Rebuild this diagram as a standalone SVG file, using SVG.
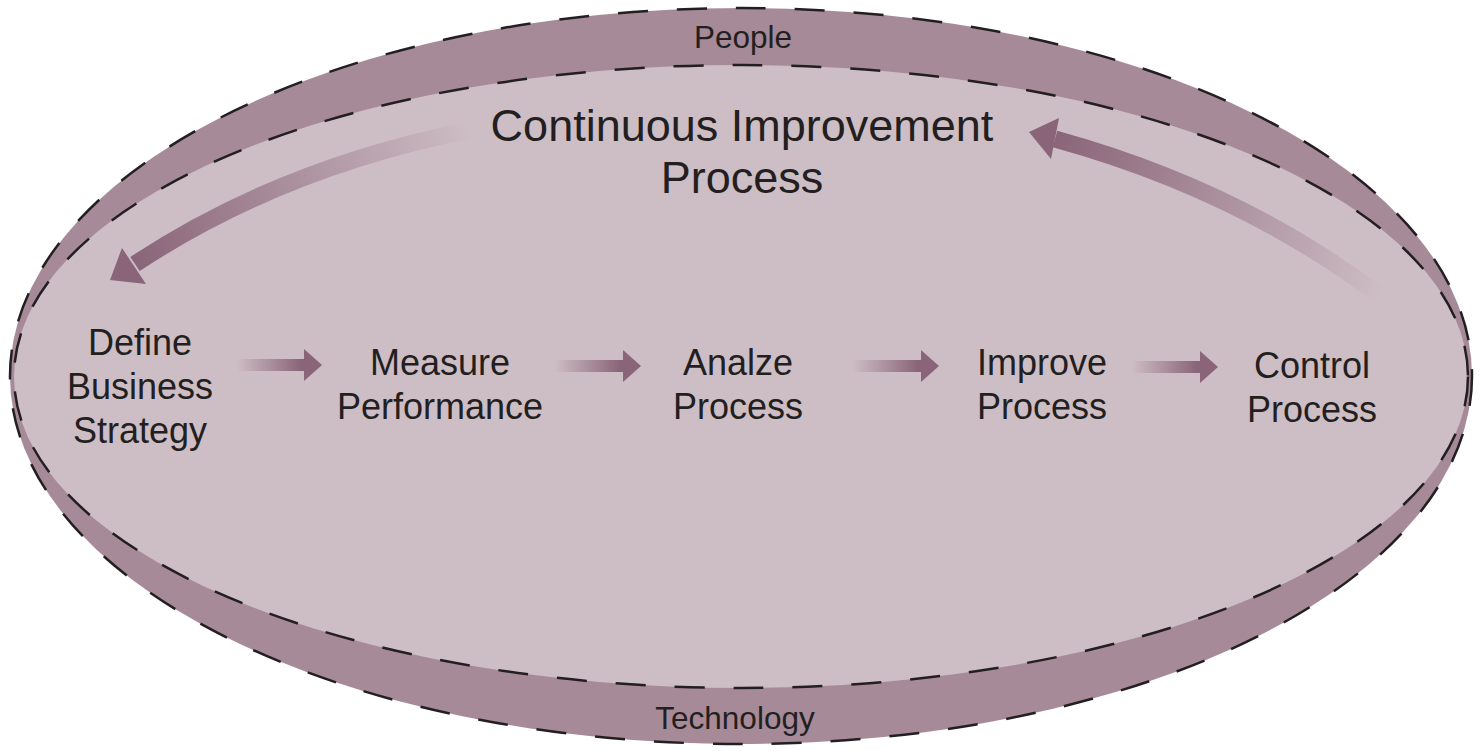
<svg xmlns="http://www.w3.org/2000/svg" width="1481" height="751" viewBox="0 0 1481 751">
  <defs>
    <style>
      .ring { stroke: #231f20; stroke-width: 2.5; stroke-dasharray: 30 29; }
      .band { fill: #a68a98; }
      .core { fill: #cdbdc4; }
      .lbl { font-family: "Liberation Sans", Arial, sans-serif; fill: #231f20; text-anchor: middle; }
      .node { font-size: 36px; }
      .title { font-size: 45px; }
      .edge { font-size: 31.5px; }
      .step { fill: url(#stepFade); }
      .head { fill: #8a6579; }
    </style>
    <!-- straight step arrows fade in from the left -->
    <linearGradient id="stepFade" x1="0" y1="0" x2="1" y2="0">
      <stop offset="0" stop-color="#8a6579" stop-opacity="0"/>
      <stop offset="0.75" stop-color="#8a6579" stop-opacity="1"/>
      <stop offset="1" stop-color="#8a6579" stop-opacity="1"/>
    </linearGradient>
    <!-- curved feedback arrows fade toward their tail -->
    <linearGradient id="fadeLeft" gradientUnits="userSpaceOnUse" x1="470" y1="130" x2="135" y2="262">
      <stop offset="0" stop-color="#8a6579" stop-opacity="0"/>
      <stop offset="1" stop-color="#8a6579" stop-opacity="1"/>
    </linearGradient>
    <linearGradient id="fadeRight" gradientUnits="userSpaceOnUse" x1="1380" y1="296" x2="1055" y2="138">
      <stop offset="0" stop-color="#8a6579" stop-opacity="0"/>
      <stop offset="1" stop-color="#8a6579" stop-opacity="1"/>
    </linearGradient>
  </defs>

  <!-- outer ring: People / Technology -->
  <g id="people-technology">
    <ellipse class="band ring" cx="741" cy="376" rx="731" ry="368"/>
    <text class="lbl edge" x="743" y="48">People</text>
    <text class="lbl edge" x="735" y="729">Technology</text>
  </g>

  <!-- inner area: the improvement cycle -->
  <g id="continuous-improvement">
    <ellipse class="core ring" cx="741" cy="376.5" rx="727" ry="311.5"/>
    <text class="lbl title" x="742" y="141">Continuous Improvement</text>
    <text class="lbl title" x="742" y="193">Process</text>
  </g>

  <g id="define">
    <text class="lbl node" x="140" y="355">Define</text>
    <text class="lbl node" x="140" y="399">Business</text>
    <text class="lbl node" x="140" y="443">Strategy</text>
  </g>
  <g id="measure">
    <text class="lbl node" x="440" y="375">Measure</text>
    <text class="lbl node" x="440" y="419">Performance</text>
  </g>
  <g id="analyze">
    <text class="lbl node" x="738" y="375">Analze</text>
    <text class="lbl node" x="738" y="419">Process</text>
  </g>
  <g id="improve">
    <text class="lbl node" x="1042" y="375">Improve</text>
    <text class="lbl node" x="1042" y="419">Process</text>
  </g>
  <g id="control">
    <text class="lbl node" x="1312" y="378">Control</text>
    <text class="lbl node" x="1312" y="422">Process</text>
  </g>

  <g id="connectors">
    <!-- step arrows -->
    <path class="step" d="M237 359 H304 V349 L322 365 L304 381 V371 H237 Z"/>
    <path class="step" d="M555 360 H623 V350 L641 366 L623 382 V372 H555 Z"/>
    <path class="step" d="M853 360 H921 V350 L939 366 L921 382 V372 H853 Z"/>
    <path class="step" d="M1132 361 H1200 V351 L1218 367 L1200 383 V373 H1132 Z"/>
    <!-- feedback arrow back to strategy -->
    <path d="M470 130 Q 280 168 135 264" fill="none" stroke="url(#fadeLeft)" stroke-width="17"/>
    <polygon class="head" points="110,280 122,248 146,284"/>
    <!-- feedback arrow from control up to the title -->
    <path d="M1380 296 Q 1240 190 1055 139" fill="none" stroke="url(#fadeRight)" stroke-width="17"/>
    <polygon class="head" points="1029,132 1059,118 1051,159"/>
  </g>
</svg>
